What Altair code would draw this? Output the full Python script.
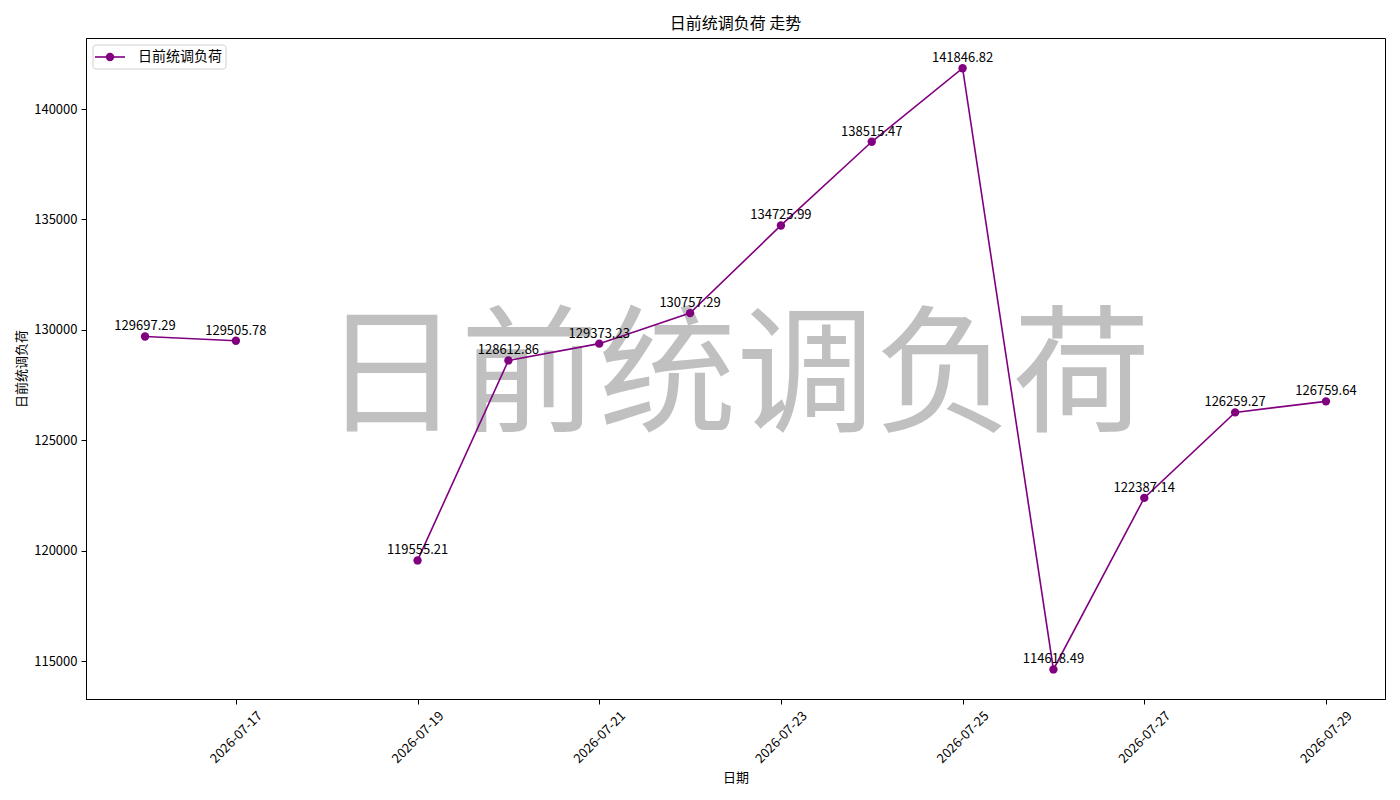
import altair as alt
import pandas as pd

FONT = "Noto Sans CJK SC"

dates = ["2026-07-16", "2026-07-17", "2026-07-18", "2026-07-19", "2026-07-20",
         "2026-07-21", "2026-07-22", "2026-07-23", "2026-07-24", "2026-07-25",
         "2026-07-26", "2026-07-27", "2026-07-28", "2026-07-29"]
values = [129697.29, 129505.78, None, 119555.21, 128612.86,
          129373.23, 130757.29, 134725.99, 138515.47, 141846.82,
          114618.49, 122387.14, 126259.27, 126759.64]
y_ticks = [115000, 120000, 125000, 130000, 135000, 140000]
series_name = "日前统调负荷"
chart_title = "日前统调负荷 走势"
x_title = "日期"
y_title = "日前统调负荷"

W, H = 1299, 661

dt = pd.to_datetime(pd.Series(dates))
df = pd.DataFrame({
    "date": dates,
    "day": (dt - dt.iloc[0]).dt.days,
    "value": values,
})
df["segment"] = df["value"].isna().cumsum()
df["label"] = df["value"].map(lambda v: "" if pd.isna(v) else f"{v:.2f}")
df_valid = df.dropna(subset=["value"])

n = len(dates)
pad = 0.05 * (n - 1)
x_scale = alt.Scale(domain=[-pad, (n - 1) + pad], nice=False, zero=False)
y_scale = alt.Scale(domain=[113279, 143216], nice=False, zero=False)
tick_days = list(range(1, n, 2))
label_expr = "[" + ",".join(f"'{d}'" for d in dates) + "][datum.value]"

x_enc = alt.X("day:Q", scale=x_scale,
              axis=alt.Axis(values=tick_days, labelExpr=label_expr, title=x_title,
                            labelAngle=315, labelAlign="center", labelBaseline="middle",
                            labelFontSize=13, labelPadding=33, titlePadding=6))
y_enc = alt.Y("value:Q", scale=y_scale,
              axis=alt.Axis(values=y_ticks, format="d", title=y_title, titlePadding=5))

purple = "#800080"

watermark = alt.Chart(pd.DataFrame({"t": [series_name]})).mark_text(
    fontSize=138, font=FONT, color="#c0c0c0", align="center", baseline="middle"
).encode(x=alt.value(W / 2 + 1), y=alt.value(H / 2 + 11), text="t:N")

line = alt.Chart(df_valid).mark_line(color=purple, strokeWidth=1.6).encode(
    x=x_enc, y=y_enc, detail="segment:N")

points = alt.Chart(df_valid).mark_point(filled=True, color=purple, size=70, opacity=1).encode(
    x="day:Q", y="value:Q")

labels = alt.Chart(df_valid).mark_text(
    font=FONT, fontSize=13, color="black", baseline="bottom", dy=-3
).encode(x="day:Q", y="value:Q", text="label:N")

leg_df = pd.DataFrame({"name": [series_name]})
leg_box = alt.Chart(leg_df).mark_rect(
    fill="white", stroke="#cccccc", strokeWidth=1, cornerRadius=3, opacity=0.9
).encode(x=alt.value(7), x2=alt.value(140), y=alt.value(7), y2=alt.value(31))
leg_line = alt.Chart(leg_df).mark_rule(color=purple, strokeWidth=1.6).encode(
    x=alt.value(9), x2=alt.value(39), y=alt.value(19))
leg_pt = alt.Chart(leg_df).mark_point(filled=True, color=purple, size=70, opacity=1).encode(
    x=alt.value(24), y=alt.value(19))
leg_text = alt.Chart(leg_df).mark_text(
    font=FONT, fontSize=14, align="left", baseline="middle", color="black"
).encode(x=alt.value(52), y=alt.value(19), text="name:N")

chart = alt.layer(
    watermark, line, points, labels, leg_box, leg_line, leg_pt, leg_text
).properties(
    width=W, height=H,
    background="white",
    title=alt.TitleParams(chart_title, font=FONT, fontSize=16, fontWeight="normal",
                          anchor="middle", offset=6, color="black"),
    autosize=alt.AutoSizeParams(type="none"),
    padding={"left": 78, "top": 30, "right": 5, "bottom": 92},
).configure_view(
    stroke="black", strokeWidth=1
).configure_axis(
    grid=False, labelFont=FONT, labelFontSize=13, labelColor="black",
    titleFont=FONT, titleFontSize=13, titleFontWeight="normal", titleColor="black",
    domainColor="black", tickColor="black", tickSize=5, labelPadding=4,
)

chart.save("out.html", embed_options={"renderer": "svg", "actions": False})
